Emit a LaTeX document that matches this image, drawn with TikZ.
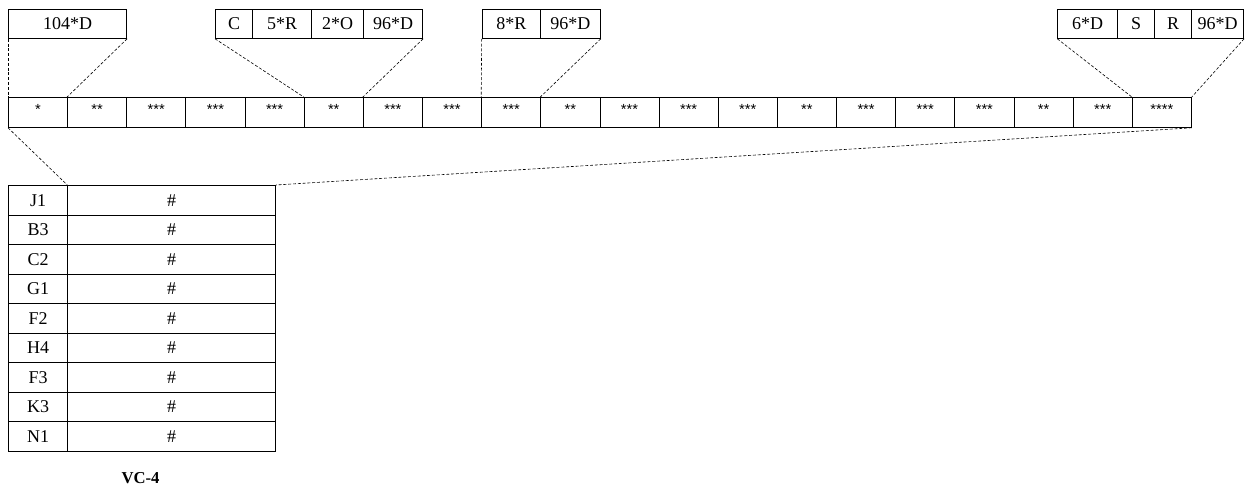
\documentclass[tikz,border=0pt]{standalone}
\usepackage{fontspec}
\setmainfont{Liberation Serif}
\newfontfamily\starfont{Liberation Sans}
\begin{document}
\begin{tikzpicture}[x=0.75pt,y=-0.75pt,
  bx/.style={draw, line width=0.6pt, inner sep=0pt, anchor=north west,
    minimum width={#1*0.75pt}, font=\fontsize{13.5}{15}\selectfont},
  topbx/.style={bx=#1, minimum height={29*0.75pt}},
  mcell/.style={draw, line width=0.6pt, inner sep=0pt, anchor=north west,
    minimum width={59.15*0.75pt}, minimum height={30*0.75pt},
    font=\starfont\fontsize{11}{12}\selectfont, text height=6pt, text depth=3.5pt},
  tcell/.style={bx=#1, minimum height={29.56*0.75pt}},
  conn/.style={line width=0.45pt, dash pattern=on 2.2pt off 1.4pt}]
\useasboundingbox (0,0) rectangle (1251,488);
% main row
\foreach \t [count=\i from 0] in {*,**,***,***,***,**,***,***,***,**,***,***,***,**,***,***,***,**,***,****}{
  \node[mcell] (c\i) at ({8+\i*59.15},97) {\t};
}
% top boxes
\node[topbx=118.3] (a1) at (8,9) {104*D};
\node[topbx=37.3] (b1) at (215,9) {C};
\node[topbx=58.7] (b2) at (252.3,9) {5*R};
\node[topbx=52.3] (b3) at (311,9) {2*O};
\node[topbx=59] (b4) at (363.3,9) {96*D};
\node[topbx=58.3] (d1) at (481.7,9) {8*R};
\node[topbx=60] (d2) at (540,9) {96*D};
\node[topbx=60] (e1) at (1057.3,9) {6*D};
\node[topbx=37] (e2) at (1117.3,9) {S};
\node[topbx=36.7] (e3) at (1154.3,9) {R};
\node[topbx=52.3] (e4) at (1191,9) {96*D};
% table
\foreach \l [count=\i from 1] in {J1,B3,C2,G1,F2,H4,F3,K3,N1}{
  \node[tcell=59.3] (tl\i) at (8,{185+(\i-1)*29.56}) {\l};
  \node[tcell=207.7] (tr\i) at (67.3,{185+(\i-1)*29.56}) {\#};
}
\node[font=\bfseries\fontsize{12.5}{14}\selectfont] (lbl) at (140.5,478) {VC-4};
% connectors
\draw[conn] (a1.south west) -- (c0.north west);
\draw[conn] (a1.south east) -- (c1.north west);
\draw[conn] (b1.south west) -- (c5.north west);
\draw[conn] (b4.south east) -- (c6.north west);
\draw[conn] (d1.south west) -- (c8.north west);
\draw[conn] (d2.south east) -- (c9.north west);
\draw[conn] (e1.south west) -- (c19.north west);
\draw[conn] (e4.south east) -- (c19.north east);
\draw[conn] (c0.south west) -- (tr1.north west);
\draw[conn] (c19.south east) -- (tr1.north east);
\end{tikzpicture}
\end{document}
